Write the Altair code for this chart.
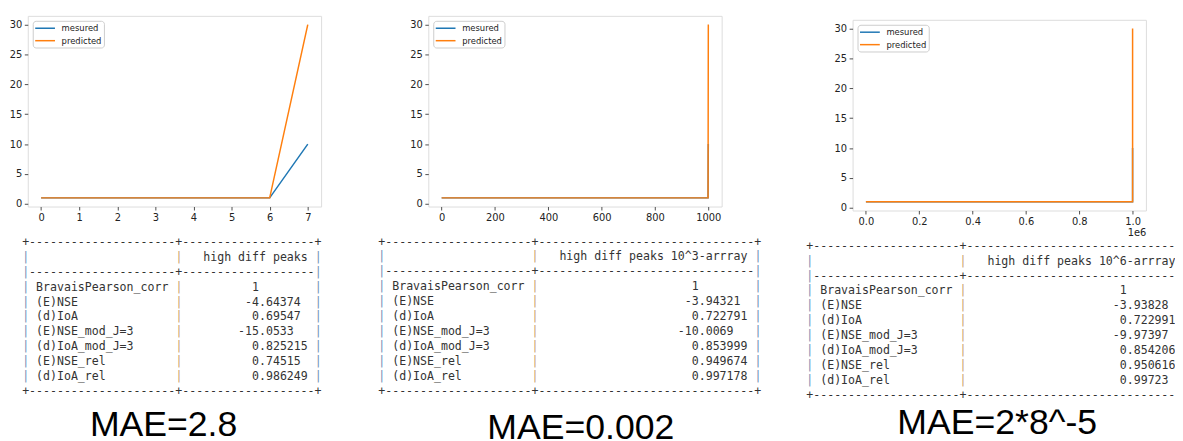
import altair as alt
import pandas as pd

SERIES = ["mesured", "predicted"]
COLORS = ["#1f77b4", "#ff7f0e"]

# ---- line-plot data ----
p1_x = [0, 1, 2, 3, 4, 5, 6, 7]
p1_mes = [1, 1, 1, 1, 1, 1, 1, 10]
p1_pred = [1, 1, 1, 1, 1, 1, 1, 30]

p2_x = [0, 999, 1000]
p2_mes = [1, 1, 10]
p2_pred = [1, 1, 30]

p3_x = [0, 999999, 1000000]
p3_mes = [1, 1, 10]
p3_pred = [1, 1, 30]

y_ticks = [0, 5, 10, 15, 20, 25, 30]
p1_ticks = [0, 1, 2, 3, 4, 5, 6, 7]
p2_ticks = [0, 200, 400, 600, 800, 1000]
p3_ticks = [0, 200000, 400000, 600000, 800000, 1000000]

# ---- table data ----
metric_names = ["BravaisPearson_corr", "(E)NSE", "(d)IoA", "(E)NSE_mod_J=3",
                "(d)IoA_mod_J=3", "(E)NSE_rel", "(d)IoA_rel"]
t1_header = "high diff peaks"
t1_values = [1, -4.64374, 0.69547, -15.0533, 0.825215, 0.74515, 0.986249]
t2_header = "high diff peaks 10^3-arrray"
t2_values = [1, -3.94321, 0.722791, -10.0069, 0.853999, 0.949674, 0.997178]
t3_header = "high diff peaks 10^6-arrray"
t3_values = [1, -3.93828, 0.722991, -9.97397, 0.854206, 0.950616, 0.99723]

mae_labels = ["MAE=2.8", "MAE=0.002", "MAE=2*8^-5"]

# ---- styling ----
W, H = 296.6, 192.8
MONO = "DejaVu Sans Mono"
FS = 11.7
ADV = FS * 0.60205
LH = 15.1
TXT = "#333333"
EDGE = "#6f8fb5"
MID = "#c9a26b"
SANS = "DejaVu Sans"
MAE_FONT = "Liberation Sans, Arial"


def fmt(v):
    return str(v) if isinstance(v, int) else format(v, "g")


def after_point(s):
    return len(s) - s.index(".") - 1 if "." in s else -1


def psql_lines(names, header, values):
    w1 = max(max(len(n) for n in names), 2)
    strs = [fmt(v) for v in values]
    decs = [after_point(s) for s in strs]
    md = max(decs)
    strs = [s + " " * (md - d) for s, d in zip(strs, decs)]
    w2 = max(max(len(s) for s in strs), len(header) + 2)
    border = "+" + "-" * (w1 + 2) + "+" + "-" * (w2 + 2) + "+"
    sep = "|" + "-" * (w1 + 2) + "+" + "-" * (w2 + 2) + "|"
    out = [border, "| " + "".ljust(w1) + " | " + header.rjust(w2) + " |", sep]
    for n, s in zip(names, strs):
        out.append("| " + n.ljust(w1) + " | " + s.rjust(w2) + " |")
    out.append(border)
    return out


def table_rows(lines):
    rows = []
    for i, ln in enumerate(lines):
        j = 0
        n = len(ln)
        while j < n:
            ch = ln[j]
            if ch == "|":
                part = "edge" if j in (0, n - 1) else "mid"
                rows.append({"line": i, "col": j, "text": "|", "part": part})
                j += 1
            elif ch == " ":
                j += 1
            else:
                k = j
                while k < n and ln[k] not in " |":
                    k += 1
                rows.append({"line": i, "col": j, "text": ln[j:k], "part": "text"})
                j = k
    return rows


def column(x, mes, pred, xdomain, xticks, label_expr, xtitle, names, header, values,
           mae, mae_dx, mae_line, tx0, ty0):
    df = pd.DataFrame({
        "x": list(x) + list(x),
        "y": list(mes) + list(pred),
        "series": [SERIES[0]] * len(x) + [SERIES[1]] * len(x),
    })
    axis_kw = dict(domain=False, grid=False, tickSize=3.5, tickColor="#222",
                   tickWidth=0.8, labelFont=SANS, labelFontSize=10,
                   labelColor="#222", labelPadding=2.5, labelFlush=False,
                   labelOverlap=False)
    if xtitle:
        xaxis = alt.Axis(values=xticks, labelExpr=label_expr, title=xtitle,
                         titleAnchor="end", titleAlign="right", titleFont=SANS,
                         titleFontSize=10, titleFontWeight="normal", titleColor="#222",
                         titlePadding=1, **axis_kw)
    else:
        xaxis = alt.Axis(values=xticks, labelExpr=label_expr, title=None, **axis_kw)
    line = alt.Chart(df).mark_line(strokeWidth=1.5).encode(
        x=alt.X("x:Q", scale=alt.Scale(domain=xdomain, nice=False, zero=False), axis=xaxis),
        y=alt.Y("y:Q", scale=alt.Scale(domain=[-0.45, 31.45], nice=False, zero=False),
                axis=alt.Axis(values=y_ticks, format="d", title=None, **axis_kw)),
        color=alt.Color("series:N", scale=alt.Scale(domain=SERIES, range=COLORS),
                        legend=alt.Legend(title=None, orient="top-left", offset=4.5,
                                          symbolType="M-1,0L3,0", symbolSize=100,
                                          symbolStrokeWidth=1.5, labelFont=SANS,
                                          labelFontSize=8.5, labelColor="#222",
                                          labelOffset=15.7, padding=1.5, rowPadding=1.6,
                                          strokeColor="#cccccc", fillColor="white",
                                          cornerRadius=3)),
    )
    lines = psql_lines(names, header, values)
    tdf = pd.DataFrame(table_rows(lines))
    ncol = 60
    xs = alt.Scale(domain=[0, ncol], range=[tx0, tx0 + ncol * ADV], nice=False, zero=False)
    ys = alt.Scale(domain=[0, 10], range=[ty0, ty0 + 10 * LH], nice=False, zero=False)
    base = alt.Chart(tdf).encode(
        x=alt.X("col:Q", scale=xs, axis=None),
        y=alt.Y("line:Q", scale=ys, axis=None),
        text="text:N",
    )
    mk = dict(align="left", baseline="middle", font=MONO, fontSize=FS)
    txt = base.transform_filter(alt.datum.part == "text").mark_text(color=TXT, **mk)
    edge = base.transform_filter(alt.datum.part == "edge").mark_text(color=EDGE, **mk)
    mid = base.transform_filter(alt.datum.part == "mid").mark_text(color=MID, **mk)
    mdf = pd.DataFrame({"col": [len(lines[0]) / 2], "line": [mae_line], "label": [mae]})
    mae_layer = alt.Chart(mdf).mark_text(
        font=MAE_FONT, fontSize=36, color="black", align="center",
        baseline="alphabetic", dx=mae_dx
    ).encode(
        x=alt.X("col:Q", scale=xs, axis=None),
        y=alt.Y("line:Q", scale=ys, axis=None),
        text="label:N",
    )
    ch = alt.layer(line, txt, edge, mid, mae_layer).resolve_scale(
        x="independent", y="independent", color="independent"
    )
    return ch.properties(width=W, height=H)


c1 = column(p1_x, p1_mes, p1_pred, [-0.35, 7.35], p1_ticks, "format(datum.value, 'd')", None,
            metric_names, t1_header, t1_values, mae_labels[0], -8.4, 12.98, -5.7, 228.5)
c2 = column(p2_x, p2_mes, p2_pred, [-50, 1050], p2_ticks, "format(datum.value, 'd')", None,
            metric_names, t2_header, t2_values, mae_labels[1], 11.1, 13.2, -50.6, 228.2)
c3 = column(p3_x, p3_mes, p3_pred, [-50000, 1050000], p3_ticks,
            "format(datum.value / 1000000, '.1f')", "1e6",
            metric_names, t3_header, t3_values, mae_labels[2], -0.7, 12.6, -46.8, 228.4)

# the third panel sits a few pixels lower in the reference: an empty strip above it
spacer = alt.Chart(pd.DataFrame({"v": [0]})).mark_rule(opacity=0, strokeWidth=0.1).encode(
    x=alt.value(0), x2=alt.value(1), y=alt.value(1)
).properties(width=W, height=2, view=alt.ViewBackground(stroke="transparent"))

col3 = alt.vconcat(spacer, c3, spacing=0).resolve_scale(color="independent")
inner = alt.hconcat(c2, col3, spacing=43).resolve_scale(color="independent")
chart = alt.hconcat(c1, inner, spacing=55).resolve_scale(color="independent").properties(
    padding={"left": 0, "top": 4.5, "right": -16, "bottom": 0}
).configure_view(stroke="#333333", strokeWidth=1).configure(background="white")

chart.save("out.html", embed_options={"renderer": "svg", "actions": False})
